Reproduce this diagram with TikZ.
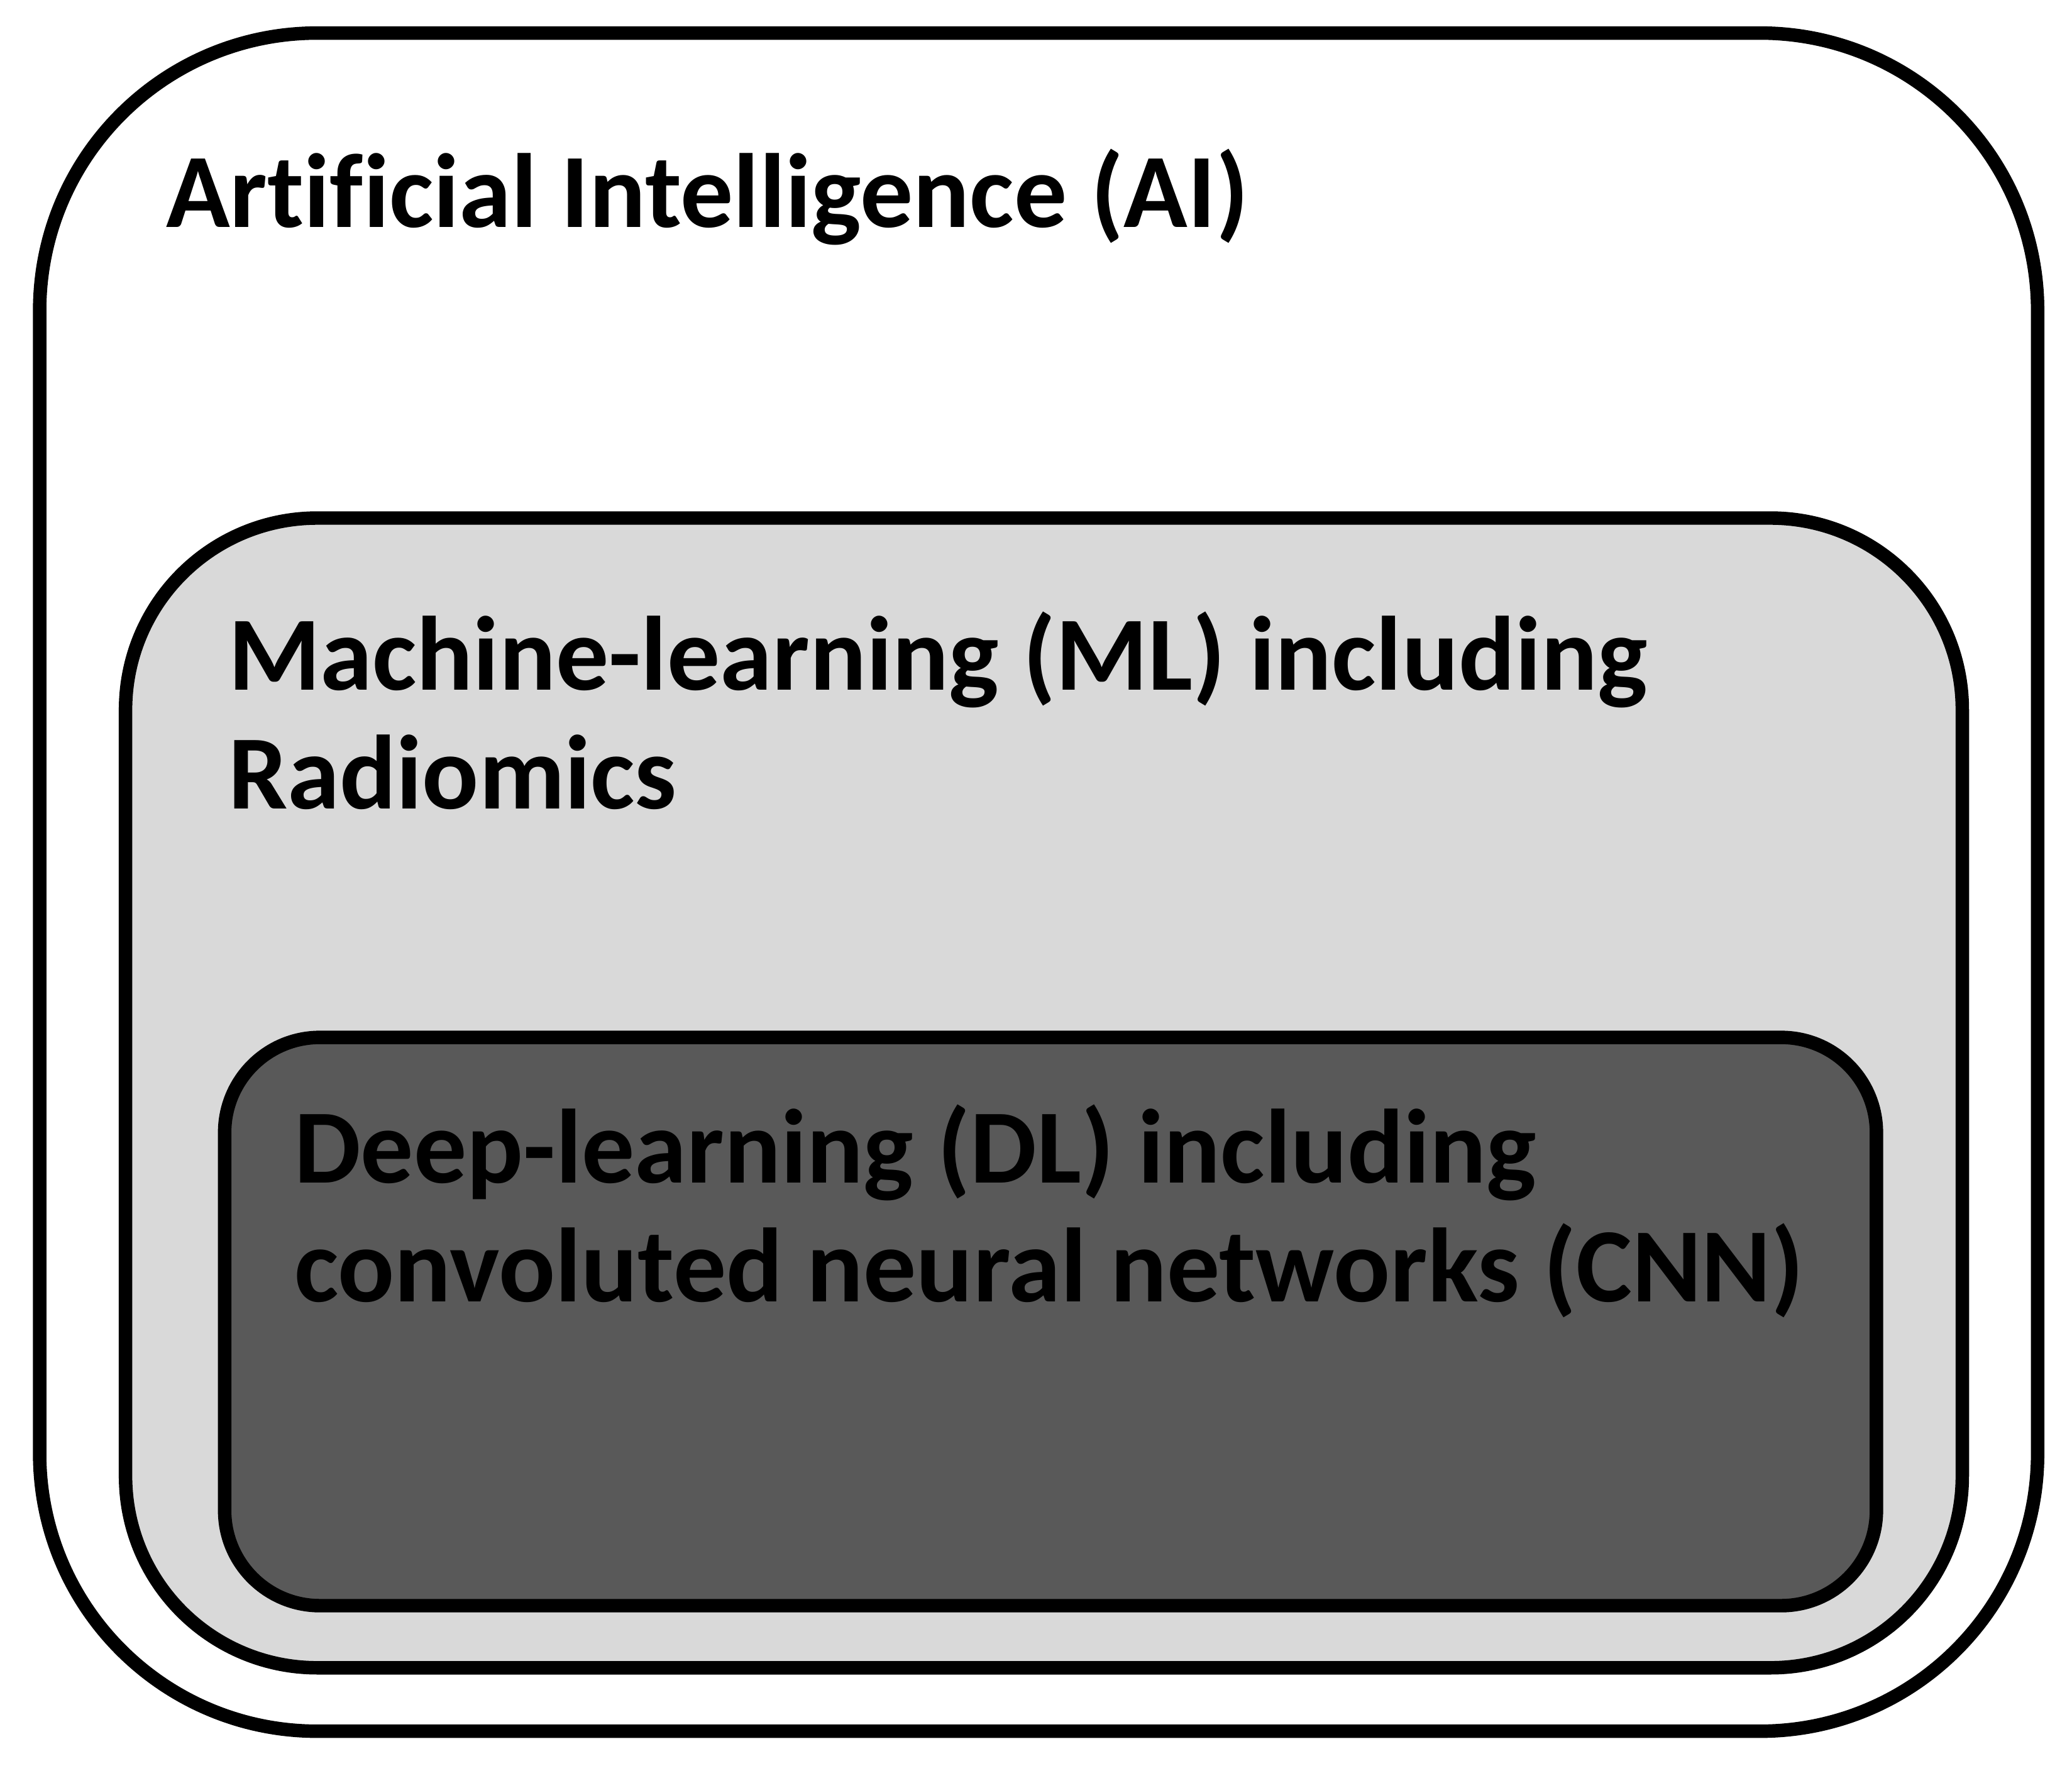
\documentclass[tikz,border=0pt]{standalone}
\usepackage{fontspec}
\setmainfont{Carlito}[Ligatures=NoCommon]
\definecolor{LightGrey}{RGB}{217,217,217}
\definecolor{DarkGrey}{RGB}{89,89,89}
\tikzset{
	box/.style={draw=black, line width=2.9pt},
	label/.style={anchor=base west, inner sep=0pt, align=left, font=\fontsize{22.7}{25.6}\selectfont\bfseries}
}
\begin{document}
\begin{tikzpicture}[x=0.01cm, y=-0.01cm]
	\useasboundingbox (0,0) rectangle (1568,1336);
%
	%outer box
	\draw[box, fill=white, rounded corners=2.1cm] (30,25) rectangle (1542,1310);
	\node[label] (ai) at (125,172) {Artificial Intelligence (AI)};
%
	%machine learning box
	\draw[box, fill=LightGrey, rounded corners=1.45cm] (95,392) rectangle (1485,1262);
	\node[label] (ml) at (172,612) {Machine-learning (ML) including\\Radiomics};
%
	%deep learning box
	\draw[box, fill=DarkGrey, rounded corners=0.72cm] (170,785) rectangle (1420,1215);
	\node[label] (dl) at (222,985) {Deep-learning (DL) including\\convoluted neural networks (CNN)};
\end{tikzpicture}
\end{document}
